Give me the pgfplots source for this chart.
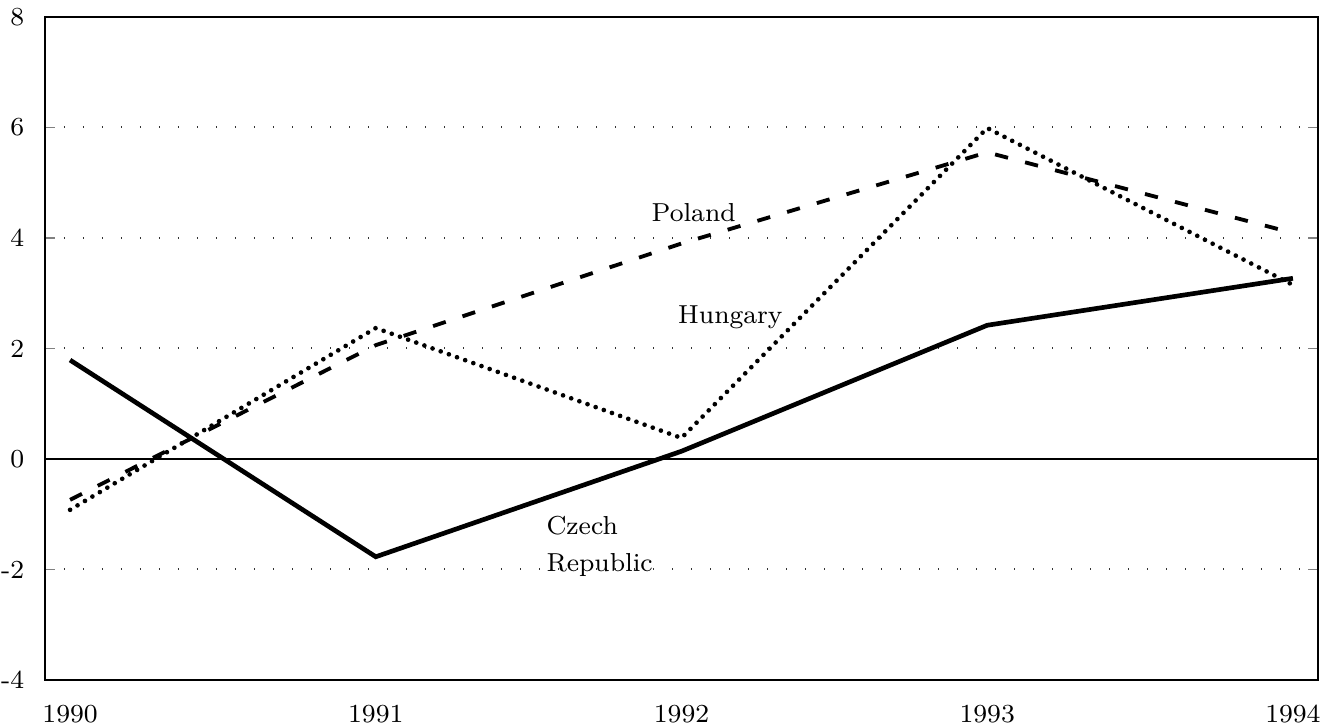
\documentclass[border=0pt]{standalone}
\usepackage{pgfplots}
\pgfplotsset{compat=1.18}

\begin{document}
\begin{tikzpicture}
% page frame matching the reference proportions (1 px = 0.3 pt)
\path[use as bounding box] (-13.5pt,-14.4pt) rectangle (385.5pt,204pt);
\begin{axis}[
    scale only axis,
    width=381.9pt, height=198.9pt,
    xmin=1989.918, xmax=1994.082,
    ymin=-4, ymax=8,
    xtick={1990,1991,1992,1993,1994},
    xticklabels={1990,1991,1992,1993,1994},
    ytick={-4,-2,0,2,4,6,8},
    /pgf/number format/assume math mode=true,
    font=\fontsize{7.8}{9}\selectfont,
    tick align=inside,
    major tick length=3pt,
    xtick style={draw=none},
    ytick style={line width=0.5pt},
    yticklabel style={xshift=-2.7pt},
    xticklabel style={yshift=-3.9pt},
    axis line style={line width=0.8pt},
    ymajorgrids,
    grid style={black!80, line width=0.6pt, dash pattern=on 0.4pt off 5.3pt},
    clip=false,
]
% zero line
\addplot[black, line width=0.7pt] coordinates {(1989.918,0) (1994.082,0)};

% Czech Republic
\addplot[black, line width=1.4pt] coordinates {
    (1990, 1.79)
    (1991, -1.77)
    (1992, 0.14)
    (1993, 2.42)
    (1994, 3.27)
};
% Poland
\addplot[black, line width=1.15pt, dash pattern=on 4pt off 5.3pt] coordinates {
    (1990, -0.74)
    (1991, 2.06)
    (1992, 3.90)
    (1993, 5.55)
    (1994, 4.09)
};
% Hungary
\addplot[black, line width=1.4pt, line cap=round, dash pattern=on 0pt off 2.6pt] coordinates {
    (1990, -0.92)
    (1991, 2.37)
    (1992, 0.38)
    (1993, 5.99)
    (1994, 3.15)
};

\node at (axis cs:1992.04,4.45) {Poland};
\node at (axis cs:1992.16,2.57) {Hungary};
\node[anchor=west, align=left, font=\fontsize{7.8}{11}\selectfont] at (axis cs:1991.52,-1.58) {Czech\\Republic};
\end{axis}
\end{tikzpicture}
\end{document}
